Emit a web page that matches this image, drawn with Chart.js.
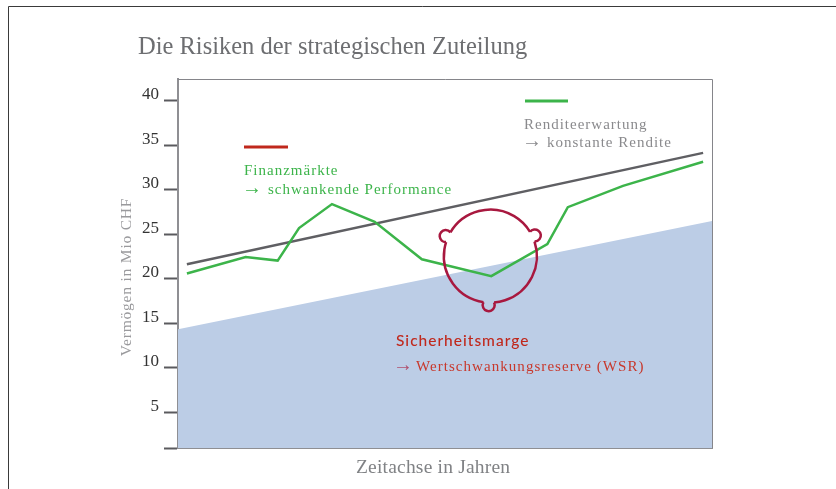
<!DOCTYPE html>
<html>
<head>
<meta charset="utf-8">
<title>Die Risiken der strategischen Zuteilung</title>
<script src="https://cdn.jsdelivr.net/npm/chart.js@4"></script>
<style>
  html, body { margin: 0; padding: 0; background: #fff; }
  canvas { display: block; }
</style>
</head>
<body>
<canvas id="riskChart" width="836" height="489"></canvas>
<script>
const chartTitle = 'Die Risiken der strategischen Zuteilung';
const yAxisLabel = 'Vermögen in Mio CHF';
const xAxisLabel = 'Zeitachse in Jahren';
const yTicks = [5, 10, 15, 20, 25, 30, 35, 40];

const marketYears = [0.5, 3.8, 5.6, 6.8, 8.65, 11.05, 13.7, 17.6, 20.75, 21.9, 25, 29.5];
const marketValues = [20.6, 22.45, 22.05, 25.7, 28.4, 26.4, 22.2, 20.3, 23.9, 28.05, 30.45, 33.15];
const returnYears = [0.5, 29.5];
const returnValues = [21.65, 34.15];
const marginYears = [0, 30];
const marginValues = [14.35, 26.5];

// centre of the ring that marks the drawdown (years, value)
const ringCentre = [17.55, 22.55];

const Y_MIN = 1;
const Y_MAX = 42.45;

const serif = '"Liberation Serif", serif';
const arrowFont = `20px ${serif}`;
const noteFont = `15px ${serif}`;
const labels = [
  { text: chartTitle, x: 138, y: 54, font: `24.5px ${serif}`, color: '#6d6e71', spacing: 0 },
  { text: xAxisLabel, x: 356, y: 473, font: `19.5px ${serif}`, color: '#808285', spacing: 0.2 },
  { text: 'Finanzmärkte', x: 244, y: 175, font: noteFont, color: '#3cb44a', spacing: 1 },
  { text: '→', x: 242, y: 193.5, font: arrowFont, color: '#3cb44a', spacing: 0 },
  { text: 'schwankende Performance', x: 268, y: 194, font: noteFont, color: '#3cb44a', spacing: 1 },
  { text: 'Renditeerwartung', x: 524, y: 129, font: noteFont, color: '#8a8a8d', spacing: 1 },
  { text: '→', x: 522, y: 146.5, font: arrowFont, color: '#8a8a8d', spacing: 0 },
  { text: 'konstante Rendite', x: 547, y: 147, font: noteFont, color: '#8a8a8d', spacing: 1 },
  { text: 'Sicherheitsmarge', x: 396, y: 346, font: '500 15.5px Lato, sans-serif', color: '#c0281c', spacing: 1 },
  { text: '→', x: 393, y: 370.5, font: arrowFont, color: '#b0506f', spacing: 0 },
  { text: 'Wertschwankungsreserve (WSR)', x: 416, y: 371, font: noteFont, color: '#c8382c', spacing: 1.05 }
];

// short lines above the annotations, they work as legend keys
const keys = [
  { x1: 244, x2: 288, y: 147, color: '#c0281c' },
  { x1: 525, x2: 568, y: 101, color: '#3cb44a' }
];

const toPoints = (xs, ys) => xs.map((x, i) => ({ x: x, y: ys[i] }));

const annotations = {
  id: 'annotations',
  afterDraw(chart) {
    const { ctx, chartArea, scales } = chart;
    ctx.save();

    // frame of the figure, open to the right and bottom
    ctx.strokeStyle = '#3a3a3a';
    ctx.lineWidth = 1;
    ctx.beginPath();
    ctx.moveTo(8.5, 489);
    ctx.lineTo(8.5, 6.5);
    ctx.lineTo(836, 6.5);
    ctx.stroke();

    // top and right edge of the plot
    ctx.strokeStyle = '#85858a';
    ctx.beginPath();
    ctx.moveTo(chartArea.left, chartArea.top + 0.5);
    ctx.lineTo(chartArea.right + 0.5, chartArea.top + 0.5);
    ctx.lineTo(chartArea.right + 0.5, chartArea.bottom);
    ctx.stroke();

    keys.forEach(k => {
      ctx.strokeStyle = k.color;
      ctx.lineWidth = 3;
      ctx.beginPath();
      ctx.moveTo(k.x1, k.y);
      ctx.lineTo(k.x2, k.y);
      ctx.stroke();
    });

    // ring with three small knobs
    const cx = scales.x.getPixelForValue(ringCentre[0]);
    const cy = scales.y.getPixelForValue(ringCentre[1]);
    const R = 46.5;
    const r = 6;
    const d = 49;
    const knobs = [
      Math.atan2(-20, -44.5) + 2 * Math.PI,
      Math.atan2(-20, 43) + 2 * Math.PI,
      Math.atan2(50.7, -1.8)
    ].sort((a, b) => a - b);
    const gap = Math.acos((d * d + R * R - r * r) / (2 * d * R));
    const open = Math.acos((d * d + r * r - R * R) / (2 * d * r));
    ctx.strokeStyle = '#a8183f';
    ctx.lineWidth = 2.5;
    knobs.forEach((a, i) => {
      const next = i === knobs.length - 1 ? knobs[0] + 2 * Math.PI : knobs[i + 1];
      ctx.beginPath();
      ctx.arc(cx, cy, R, a + gap, next - gap);
      ctx.stroke();
      ctx.beginPath();
      ctx.arc(cx + d * Math.cos(a), cy + d * Math.sin(a), r, a + Math.PI + open, a + Math.PI - open + 2 * Math.PI);
      ctx.stroke();
    });

    labels.forEach(l => {
      ctx.font = l.font;
      ctx.fillStyle = l.color;
      ctx.letterSpacing = l.spacing + 'px';
      ctx.fillText(l.text, l.x, l.y);
    });

    ctx.translate(131, 277);
    ctx.rotate(-Math.PI / 2);
    ctx.font = `15.5px ${serif}`;
    ctx.fillStyle = '#9a9a9d';
    ctx.letterSpacing = '0.8px';
    ctx.textAlign = 'center';
    ctx.fillText(yAxisLabel, 0, 0);
    ctx.restore();
  }
};

const ctx = document.getElementById('riskChart').getContext('2d');
new Chart(ctx, {
  type: 'line',
  data: {
    datasets: [
      {
        label: 'Finanzmärkte',
        data: toPoints(marketYears, marketValues),
        borderColor: '#3cb44a',
        borderWidth: 2.5,
        pointRadius: 0,
        tension: 0,
        order: 1
      },
      {
        label: 'Renditeerwartung',
        data: toPoints(returnYears, returnValues),
        borderColor: '#5f5f63',
        borderWidth: 2.5,
        pointRadius: 0,
        tension: 0,
        order: 2
      },
      {
        label: 'Sicherheitsmarge',
        data: toPoints(marginYears, marginValues),
        borderWidth: 0,
        backgroundColor: '#bccde6',
        fill: 'start',
        pointRadius: 0,
        tension: 0,
        order: 3
      }
    ]
  },
  options: {
    responsive: false,
    animation: false,
    events: [],
    layout: { padding: { left: 8, right: 124, top: 79, bottom: 41 } },
    plugins: {
      legend: { display: false },
      tooltip: { enabled: false }
    },
    scales: {
      x: {
        type: 'linear',
        min: 0,
        max: 30,
        ticks: { display: false },
        grid: { display: false },
        border: { color: '#8f8f93', width: 2 },
        afterFit(axis) { axis.height = 0; }
      },
      y: {
        min: Y_MIN,
        max: Y_MAX,
        afterBuildTicks(axis) {
          axis.ticks = [Y_MIN].concat(yTicks).map(v => ({ value: v }));
        },
        afterFit(axis) { axis.width = 170; },
        ticks: {
          autoSkip: false,
          padding: 5,
          labelOffset: -6,
          color: '#333333',
          font: { family: serif, size: 17 },
          callback: v => (v === Y_MIN ? '' : v)
        },
        grid: {
          drawOnChartArea: false,
          tickLength: 14,
          tickWidth: 2,
          tickColor: '#5a5a5e'
        },
        border: { color: '#8f8f93', width: 2 }
      }
    }
  },
  plugins: [annotations]
});
</script>
</body>
</html>
